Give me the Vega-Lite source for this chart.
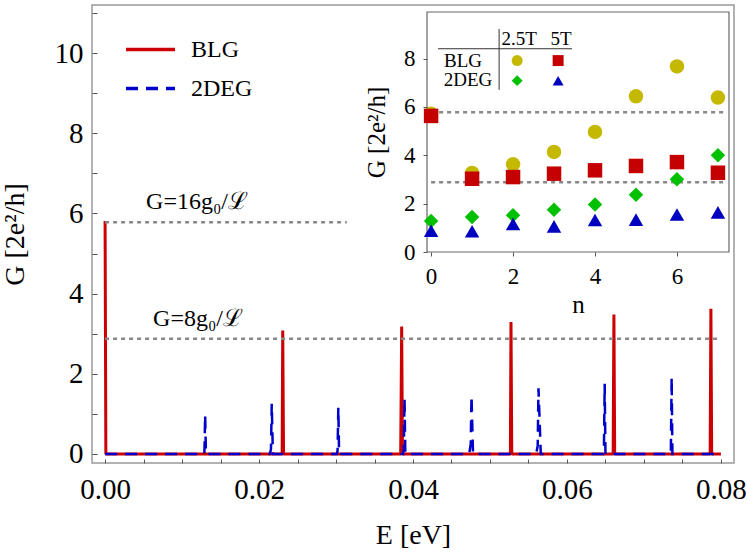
{
  "$schema": "https://vega.github.io/schema/vega-lite/v6.json",
  "width": 642,
  "height": 458,
  "autosize": {"type": "none"},
  "padding": {"left": 92, "top": 5, "right": 13, "bottom": 94},
  "background": "white",
  "config": {
    "view": {"stroke": "#999999", "strokeWidth": 1.5},
    "font": "Liberation Serif"
  },
  "datasets": {
    "red": [
      {"E": 0, "G": 5.81, "m": "BLG"},
      {"E": 0.0001, "G": 0, "m": "BLG"},
      {"E": 0.023, "G": 0, "m": "BLG"},
      {"E": 0.02308, "G": 3.08, "m": "BLG"},
      {"E": 0.02318, "G": 0, "m": "BLG"},
      {"E": 0.0384, "G": 0, "m": "BLG"},
      {"E": 0.03853, "G": 3.18, "m": "BLG"},
      {"E": 0.03863, "G": 0, "m": "BLG"},
      {"E": 0.05265, "G": 0, "m": "BLG"},
      {"E": 0.05273, "G": 3.29, "m": "BLG"},
      {"E": 0.05283, "G": 0, "m": "BLG"},
      {"E": 0.066, "G": 0, "m": "BLG"},
      {"E": 0.0661, "G": 3.48, "m": "BLG"},
      {"E": 0.0662, "G": 0, "m": "BLG"},
      {"E": 0.0786, "G": 0, "m": "BLG"},
      {"E": 0.0787, "G": 3.62, "m": "BLG"},
      {"E": 0.0788, "G": 0, "m": "BLG"},
      {"E": 0.08, "G": 0, "m": "BLG"}
    ],
    "blue": [
      {"E": 0, "G": 0, "m": "2DEG"},
      {"E": 0.0129, "G": 0, "m": "2DEG"},
      {"E": 0.013, "G": 0.975, "m": "2DEG"},
      {"E": 0.0131, "G": 0, "m": "2DEG"},
      {"E": 0.0214, "G": 0, "m": "2DEG"},
      {"E": 0.02155, "G": 0.12, "m": "2DEG"},
      {"E": 0.02165, "G": 1.25, "m": "2DEG"},
      {"E": 0.0218, "G": 0, "m": "2DEG"},
      {"E": 0.0301, "G": 0, "m": "2DEG"},
      {"E": 0.0302, "G": 0.08, "m": "2DEG"},
      {"E": 0.0303, "G": 1.16, "m": "2DEG"},
      {"E": 0.0304, "G": 0, "m": "2DEG"},
      {"E": 0.0387, "G": 0, "m": "2DEG"},
      {"E": 0.0388, "G": 0.1, "m": "2DEG"},
      {"E": 0.0389, "G": 1.39, "m": "2DEG"},
      {"E": 0.039, "G": 0, "m": "2DEG"},
      {"E": 0.0473, "G": 0, "m": "2DEG"},
      {"E": 0.0475, "G": 0.25, "m": "2DEG"},
      {"E": 0.0476, "G": 1.45, "m": "2DEG"},
      {"E": 0.0478, "G": 0, "m": "2DEG"},
      {"E": 0.056, "G": 0, "m": "2DEG"},
      {"E": 0.0562, "G": 0.2, "m": "2DEG"},
      {"E": 0.0563, "G": 1.64, "m": "2DEG"},
      {"E": 0.0566, "G": 0, "m": "2DEG"},
      {"E": 0.0647, "G": 0, "m": "2DEG"},
      {"E": 0.0648, "G": 0.08, "m": "2DEG"},
      {"E": 0.0649, "G": 1.75, "m": "2DEG"},
      {"E": 0.065, "G": 0, "m": "2DEG"},
      {"E": 0.0734, "G": 0, "m": "2DEG"},
      {"E": 0.0735, "G": 0.08, "m": "2DEG"},
      {"E": 0.0736, "G": 1.92, "m": "2DEG"},
      {"E": 0.0737, "G": 0, "m": "2DEG"},
      {"E": 0.08, "G": 0, "m": "2DEG"}
    ],
    "ref": [
      {"E1": 0, "E2": 0.0314, "G": 5.78},
      {"E1": 0, "E2": 0.08, "G": 2.875}
    ],
    "notes": [
      {"E": 0.01195, "G": 6.29, "t": "G=16g₀/ℒ"},
      {"E": 0.01208, "G": 3.37, "t": "G=8g₀/ℒ"}
    ],
    "pts": [
      {"n": 0, "G": 5.72, "s": "BLG 2.5T"},
      {"n": 1, "G": 3.27, "s": "BLG 2.5T"},
      {"n": 2, "G": 3.63, "s": "BLG 2.5T"},
      {"n": 3, "G": 4.14, "s": "BLG 2.5T"},
      {"n": 4, "G": 4.97, "s": "BLG 2.5T"},
      {"n": 5, "G": 6.44, "s": "BLG 2.5T"},
      {"n": 6, "G": 7.68, "s": "BLG 2.5T"},
      {"n": 7, "G": 6.39, "s": "BLG 2.5T"},
      {"n": 0, "G": 5.63, "s": "BLG 5T"},
      {"n": 1, "G": 3.03, "s": "BLG 5T"},
      {"n": 2, "G": 3.1, "s": "BLG 5T"},
      {"n": 3, "G": 3.24, "s": "BLG 5T"},
      {"n": 4, "G": 3.38, "s": "BLG 5T"},
      {"n": 5, "G": 3.56, "s": "BLG 5T"},
      {"n": 6, "G": 3.72, "s": "BLG 5T"},
      {"n": 7, "G": 3.28, "s": "BLG 5T"},
      {"n": 0, "G": 1.28, "s": "2DEG 2.5T"},
      {"n": 1, "G": 1.45, "s": "2DEG 2.5T"},
      {"n": 2, "G": 1.52, "s": "2DEG 2.5T"},
      {"n": 3, "G": 1.75, "s": "2DEG 2.5T"},
      {"n": 4, "G": 1.97, "s": "2DEG 2.5T"},
      {"n": 5, "G": 2.37, "s": "2DEG 2.5T"},
      {"n": 6, "G": 3.01, "s": "2DEG 2.5T"},
      {"n": 7, "G": 4.0, "s": "2DEG 2.5T"},
      {"n": 0, "G": 0.88, "s": "2DEG 5T"},
      {"n": 1, "G": 0.86, "s": "2DEG 5T"},
      {"n": 2, "G": 1.16, "s": "2DEG 5T"},
      {"n": 3, "G": 1.06, "s": "2DEG 5T"},
      {"n": 4, "G": 1.32, "s": "2DEG 5T"},
      {"n": 5, "G": 1.34, "s": "2DEG 5T"},
      {"n": 6, "G": 1.55, "s": "2DEG 5T"},
      {"n": 7, "G": 1.64, "s": "2DEG 5T"}
    ],
    "insetRef": [
      {"G": 5.78},
      {"G": 2.89}
    ],
    "keySymbols": [
      {"n": 2.1, "G": 7.92, "s": "BLG 2.5T"},
      {"n": 3.1, "G": 7.92, "s": "BLG 5T"},
      {"n": 2.1, "G": 7.09, "s": "2DEG 2.5T"},
      {"n": 3.1, "G": 7.09, "s": "2DEG 5T"}
    ],
    "keyText": [
      {"n": 2.15, "G": 8.8, "t": "2.5T"},
      {"n": 3.17, "G": 8.8, "t": "5T"},
      {"n": 0.78, "G": 7.92, "t": "BLG"},
      {"n": 0.9, "G": 7.1, "t": "2DEG"}
    ],
    "keyLines": [
      {"n1": 1.66, "n2": 1.66, "G1": 6.71, "G2": 9.23},
      {"n1": 0.17, "n2": 3.44, "G1": 8.41, "G2": 8.41}
    ]
  },
  "layer": [
    {
      "layer": [
        {
          "data": {"name": "red"},
          "mark": {"type": "line", "strokeWidth": 3, "strokeJoin": "bevel"},
          "encoding": {
            "x": {
              "field": "E", "type": "quantitative",
              "scale": {"domain": [-0.0017, 0.0817], "nice": false, "zero": false},
              "axis": {
                "orient": "bottom",
                "values": [0, 0.005, 0.01, 0.015, 0.02, 0.025, 0.03, 0.035, 0.04, 0.045, 0.05, 0.055, 0.06, 0.065, 0.07, 0.075, 0.08],
                "labelExpr": "abs(datum.value*50-round(datum.value*50))<0.001 ? format(datum.value,'.2f') : ''",
                "tickSize": -4, "tickColor": "#555555", "tickWidth": 1,
                "domain": false, "grid": false,
                "labelFont": "Liberation Serif", "labelFontSize": 29, "labelColor": "#000000",
                "labelPadding": 16, "labelFlush": false, "labelOverlap": false, "labelBound": false,
                "title": "E [eV]", "titleFont": "Liberation Serif", "titleFontSize": 28,
                "titleFontWeight": "normal", "titleColor": "#000000", "titlePadding": 17
              }
            },
            "y": {
              "field": "G", "type": "quantitative",
              "scale": {"domain": [-0.225, 11.2], "nice": false, "zero": false},
              "axis": {
                "orient": "left",
                "values": [0, 0.5, 1, 1.5, 2, 2.5, 3, 3.5, 4, 4.5, 5, 5.5, 6, 6.5, 7, 7.5, 8, 8.5, 9, 9.5, 10, 10.5, 11],
                "labelExpr": "datum.value % 2 == 0 ? format(datum.value,'d') : ''",
                "tickSize": -5, "tickColor": "#555555", "tickWidth": 1,
                "domain": false, "grid": false,
                "labelFont": "Liberation Serif", "labelFontSize": 29, "labelColor": "#000000",
                "labelPadding": 14, "labelFlush": false, "labelOverlap": false, "labelBound": false,
                "title": "G [2e²/h]", "titleFont": "Liberation Serif", "titleFontSize": 28,
                "titleFontWeight": "normal", "titleColor": "#000000", "titlePadding": 25
              }
            },
            "color": {
              "field": "m", "type": "nominal",
              "scale": {"domain": ["BLG", "2DEG"], "range": ["#cc0000", "#0000cc"]},
              "legend": {
                "orient": "none", "legendX": 32, "legendY": 18, "title": null, "padding": 0,
                "symbolType": "stroke", "symbolSize": 2400, "symbolStrokeWidth": 3.5,
                "labelFont": "Liberation Serif", "labelFontSize": 24, "labelColor": "#000000",
                "labelOffset": 14, "rowPadding": -2
              }
            },
            "strokeDash": {
              "field": "m", "type": "nominal",
              "scale": {"domain": ["BLG", "2DEG"], "range": [[1, 0], [12, 8]]},
              "legend": {
                "orient": "none", "legendX": 32, "legendY": 18, "title": null, "padding": 0,
                "symbolType": "stroke", "symbolSize": 2400, "symbolStrokeWidth": 3.5,
                "labelFont": "Liberation Serif", "labelFontSize": 24, "labelColor": "#000000",
                "labelOffset": 14, "rowPadding": -2
              }
            }
          }
        },
        {
          "data": {"name": "blue"},
          "mark": {"type": "line", "strokeWidth": 2.5},
          "encoding": {
            "x": {"field": "E", "type": "quantitative"},
            "y": {"field": "G", "type": "quantitative"},
            "color": {"field": "m", "type": "nominal"},
            "strokeDash": {"field": "m", "type": "nominal"}
          }
        },
        {
          "data": {"name": "ref"},
          "mark": {"type": "rule", "color": "#888888", "strokeWidth": 2.5, "strokeDash": [4, 4]},
          "encoding": {
            "x": {"field": "E1", "type": "quantitative"},
            "x2": {"field": "E2"},
            "y": {"field": "G", "type": "quantitative"}
          }
        },
        {
          "data": {"name": "notes"},
          "mark": {"type": "text", "font": "Liberation Serif", "fontSize": 24, "color": "#000000", "baseline": "middle"},
          "encoding": {
            "x": {"field": "E", "type": "quantitative"},
            "y": {"field": "G", "type": "quantitative"},
            "text": {"field": "t"}
          }
        }
      ]
    },
    {
      "layer": [
        {
          "data": {"values": [{}]},
          "mark": {"type": "rect", "fill": "white", "stroke": "#666666", "strokeWidth": 1.2},
          "encoding": {
            "x": {
              "datum": -0.1, "type": "quantitative",
              "scale": {"domain": [-0.1, 7.27], "range": [335, 637], "nice": false, "zero": false},
              "axis": {
                "orient": "bottom", "offset": -211, "values": [0, 2, 4, 6], "format": "d",
                "tickSize": 4, "tickColor": "#555555", "domain": false, "grid": false,
                "labelFont": "Liberation Serif", "labelFontSize": 23, "labelColor": "#000000",
                "labelPadding": 9, "labelFlush": false, "labelOverlap": false,
                "title": "n", "titleFont": "Liberation Serif", "titleFontSize": 25,
                "titleFontWeight": "normal", "titleColor": "#000000", "titlePadding": 4, "zindex": 1
              }
            },
            "x2": {"datum": 7.27},
            "y": {
              "datum": 0, "type": "quantitative",
              "scale": {"domain": [0, 9.93], "range": [247, 7], "nice": false, "zero": false},
              "axis": {
                "orient": "left", "offset": -335, "values": [0, 2, 4, 6, 8], "format": "d",
                "tickSize": 4, "tickColor": "#555555", "domain": false, "grid": false,
                "labelFont": "Liberation Serif", "labelFontSize": 23, "labelColor": "#000000",
                "labelPadding": 8, "labelFlush": false, "labelOverlap": false,
                "title": "G [2e²/h]", "titleFont": "Liberation Serif", "titleFontSize": 25,
                "titleFontWeight": "normal", "titleColor": "#000000", "titlePadding": 14, "zindex": 1
              }
            },
            "y2": {"datum": 9.93}
          }
        },
        {
          "data": {"name": "insetRef"},
          "mark": {"type": "rule", "color": "#888888", "strokeWidth": 2.5, "strokeDash": [4, 4]},
          "encoding": {
            "x": {"datum": 0, "type": "quantitative"},
            "x2": {"datum": 7.22},
            "y": {"field": "G", "type": "quantitative"}
          }
        },
        {
          "data": {"name": "keyLines"},
          "mark": {"type": "rule", "color": "#333333", "strokeWidth": 1},
          "encoding": {
            "x": {"field": "n1", "type": "quantitative"},
            "x2": {"field": "n2"},
            "y": {"field": "G1", "type": "quantitative"},
            "y2": {"field": "G2"}
          }
        },
        {
          "data": {"name": "keyText"},
          "mark": {"type": "text", "font": "Liberation Serif", "fontSize": 19, "color": "#000000", "baseline": "middle"},
          "encoding": {
            "x": {"field": "n", "type": "quantitative"},
            "y": {"field": "G", "type": "quantitative"},
            "text": {"field": "t"}
          }
        },
        {
          "data": {"name": "pts"},
          "mark": {"type": "point", "filled": true, "opacity": 1, "size": 210},
          "encoding": {
            "x": {"field": "n", "type": "quantitative"},
            "y": {"field": "G", "type": "quantitative"},
            "color": {
              "field": "s", "type": "nominal",
              "scale": {"domain": ["BLG 2.5T", "BLG 5T", "2DEG 2.5T", "2DEG 5T"], "range": ["#c4b800", "#c40000", "#00c000", "#0000c0"]},
              "legend": null
            },
            "shape": {
              "field": "s", "type": "nominal",
              "scale": {"domain": ["BLG 2.5T", "BLG 5T", "2DEG 2.5T", "2DEG 5T"], "range": ["circle", "square", "diamond", "triangle-up"]},
              "legend": null
            }
          }
        },
        {
          "data": {"name": "keySymbols"},
          "mark": {"type": "point", "filled": true, "opacity": 1, "size": 120},
          "encoding": {
            "x": {"field": "n", "type": "quantitative"},
            "y": {"field": "G", "type": "quantitative"},
            "color": {"field": "s", "type": "nominal", "legend": null},
            "shape": {"field": "s", "type": "nominal", "legend": null}
          }
        }
      ]
    }
  ],
  "resolve": {
    "scale": {"x": "independent", "y": "independent", "color": "independent", "shape": "independent", "strokeDash": "independent"},
    "axis": {"x": "independent", "y": "independent"}
  }
}
